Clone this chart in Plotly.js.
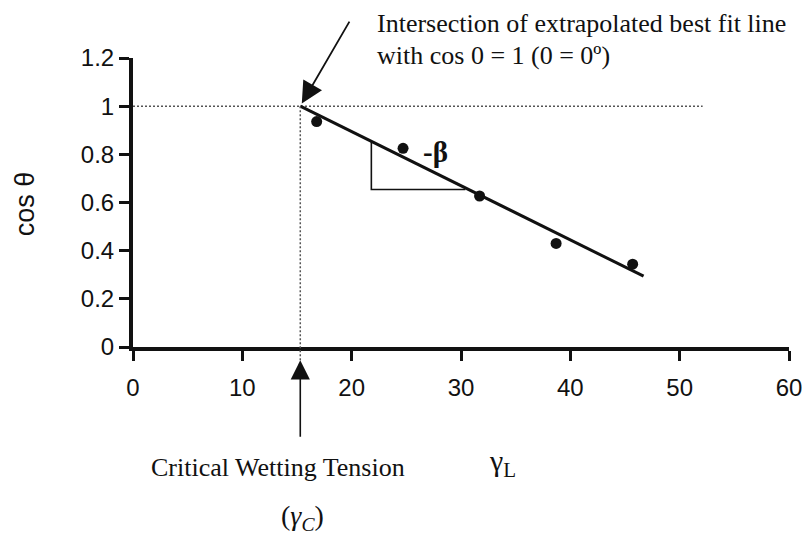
<!DOCTYPE html>
<html>
<head>
<meta charset="utf-8">
<script src="https://cdn.plot.ly/plotly-3.0.1.min.js"></script>
<style>html,body{margin:0;padding:0;background:#fff;}#chart{width:802px;height:536px;}</style>
</head>
<body>
<div id="chart"></div>
<script>
// Measured data points (gamma_L, cos theta)
var gammaL = [16.8, 24.7, 31.7, 38.7, 45.7];
var cosTheta = [0.936, 0.825, 0.627, 0.43, 0.344];
// Extrapolated best fit line end points
var fitX = [15.3, 46.7];
var fitY = [1.0, 0.294];
// Slope triangle
var triX = [21.8, 21.8, 30.4];
var triY = [0.852, 0.654, 0.654];
// cos theta = 1 reference level and critical wetting tension
var refLevelX = [0, 52.1];
var refLevelY = [1, 1];
var gammaC = 15.3;
var xTicks = [0, 10, 20, 30, 40, 50, 60];
var yTicks = [0, 0.2, 0.4, 0.6, 0.8, 1, 1.2];
var yRange = [0, 1.2];

var serif = 'Liberation Serif, Times New Roman, serif';
var sans = 'Liberation Sans, Arial, sans-serif';

var traces = [
  {x: refLevelX, y: refLevelY, mode: 'lines', line: {color: '#555', width: 1.5, dash: '2px,2px'}, hoverinfo: 'skip'},
  {x: fitX, y: fitY, mode: 'lines', line: {color: '#111', width: 3}},
  {x: triX, y: triY, mode: 'lines', line: {color: '#111', width: 1.6}},
  {x: gammaL, y: cosTheta, mode: 'markers', marker: {color: '#111', size: 11}}
];

function toPaperY(v) { return (v - yRange[0]) / (yRange[1] - yRange[0]); }

var layout = {
  width: 802, height: 536,
  margin: {l: 133, r: 13, t: 58, b: 189},
  paper_bgcolor: '#fff', plot_bgcolor: '#fff',
  showlegend: false,
  xaxis: {
    range: [0, 60], tickvals: xTicks, showgrid: false, zeroline: false,
    showline: true, linecolor: '#111', linewidth: 4,
    ticks: 'outside', ticklen: 10, tickwidth: 3, tickcolor: '#111',
    tickfont: {family: sans, size: 24, color: '#111'}, ticklabelstandoff: 6,
    ticklabeloverflow: 'allow'
  },
  yaxis: {
    range: yRange, tickvals: yTicks, showgrid: false, zeroline: false,
    showline: true, linecolor: '#111', linewidth: 4,
    ticks: 'outside', ticklen: 10, tickwidth: 3, tickcolor: '#111',
    tickfont: {family: sans, size: 24, color: '#111'}
  },
  shapes: [
    {type: 'line', xref: 'x', yref: 'paper', x0: gammaC, x1: gammaC,
     y0: toPaperY(1), y1: toPaperY(-0.055), line: {color: '#555', width: 1.5, dash: '2px,2px'}}
  ],
  annotations: [
    {xref: 'x', yref: 'y', x: gammaC, y: 1, ax: 50, ay: -86, showarrow: true,
     arrowhead: 2, arrowsize: 2.4, arrowwidth: 1.8, arrowcolor: '#111', standoff: 3, text: ''},
    {xref: 'x', yref: 'paper', x: gammaC, y: toPaperY(-0.055), ax: 0, ay: 78, showarrow: true,
     arrowhead: 2, arrowsize: 2.4, arrowwidth: 1.6, arrowcolor: '#111', text: ''},
    {xref: 'paper', yref: 'paper', x: 0.369, y: 1.121, xanchor: 'left', yanchor: 'middle', showarrow: false,
     text: 'Intersection of extrapolated best fit line', font: {family: serif, size: 26, color: '#111'}},
    {xref: 'paper', yref: 'paper', x: 0.369, y: 1.010, xanchor: 'left', yanchor: 'middle', showarrow: false,
     text: 'with cos 0 = 1 (0 = 0º)', font: {family: serif, size: 26, color: '#111'}},
    {xref: 'x', yref: 'y', x: 27.7, y: 0.81, xanchor: 'center', yanchor: 'middle', showarrow: false,
     text: '<b>-β</b>', font: {family: serif, size: 29, color: '#111'}},
    {xref: 'paper', yref: 'paper', x: 0.221, y: -0.417, xanchor: 'center', yanchor: 'middle', showarrow: false,
     text: 'Critical Wetting Tension', font: {family: serif, size: 26, color: '#111'}},
    {xref: 'paper', yref: 'paper', x: 0.564, y: -0.40, xanchor: 'center', yanchor: 'middle', showarrow: false,
     text: 'γ<sub>L</sub>', font: {family: serif, size: 30, color: '#111'}},
    {xref: 'paper', yref: 'paper', x: 0.259, y: -0.59, xanchor: 'center', yanchor: 'middle', showarrow: false,
     text: '(<i>γ<sub>C</sub></i>)', font: {family: serif, size: 28, color: '#111'}},
    {xref: 'paper', yref: 'paper', x: -0.164, y: 0.495, xanchor: 'center', yanchor: 'middle', showarrow: false, textangle: -90,
     text: 'cos θ', font: {family: sans, size: 27, color: '#111'}}
  ]
};

Plotly.newPlot('chart', traces, layout, {staticPlot: true, displayModeBar: false});
</script>
</body>
</html>
